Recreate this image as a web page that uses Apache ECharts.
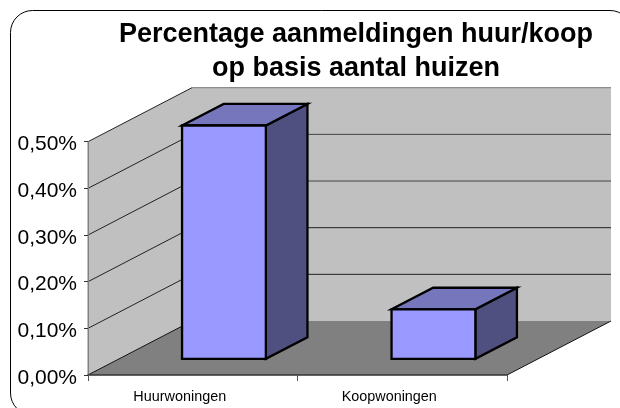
<!DOCTYPE html>
<html>
<head>
<meta charset="utf-8">
<title>Percentage aanmeldingen huur/koop</title>
<script src="https://cdn.jsdelivr.net/npm/echarts@6/dist/echarts.min.js"></script>
<style>
    html, body { margin: 0; padding: 0; background: #fff; }
    #chart { width: 620px; height: 408px; }
</style>
</head>
<body>
<div id="chart"></div>
<script>
var categories = ['Huurwoningen', 'Koopwoningen'];
var percentages = [0.5, 0.106];
var yTicks = [0, 0.1, 0.2, 0.3, 0.4, 0.5];

// depth of the fake 3d box, in pixels
var depthX = 104, depthY = -54;

function poly(points, fill, stroke, width) {
    return {
        type: 'polygon',
        shape: {points: points},
        style: {fill: fill, stroke: stroke || 'none', lineWidth: width || 0, lineJoin: 'miter'}
    };
}

function line(points, color, width) {
    return {
        type: 'polyline',
        shape: {points: points},
        style: {fill: 'none', stroke: color, lineWidth: width || 1}
    };
}

function renderWall(params, api) {
    var tick = api.value(1);
    var band = api.size([1, 0])[0];
    var left = api.coord([0, tick])[0] - band / 2;
    var right = api.coord([categories.length - 1, tick])[0] + band / 2;
    var y = api.coord([0, tick])[1];
    var children = [];

    if (params.dataIndex === 0) {
        var yTop = api.coord([0, yTicks[yTicks.length - 1]])[1];
        // side wall, back wall, floor
        children.push(poly([[left, y], [left + depthX, y + depthY], [left + depthX, yTop + depthY], [left, yTop]], '#c0c0c0'));
        children.push(poly([[left + depthX, y + depthY], [right + depthX, y + depthY], [right + depthX, yTop + depthY], [left + depthX, yTop + depthY]], '#c0c0c0'));
        children.push(poly([[left, y], [right, y], [right + depthX, y + depthY], [left + depthX, y + depthY]], '#808080'));
        children.push(line([[left, y], [left + depthX, y + depthY]], '#111'));
        children.push(line([[right, y], [right + depthX, y + depthY]], '#111'));
        children.push(line([[left, y], [left, yTop]], '#808080'));
    } else {
        children.push(line([[left + depthX, y + depthY], [right + depthX, y + depthY]], tick > 0.45 ? '#777' : (tick > 0.25 ? '#444' : '#222')));
        children.push(line([[left, y], [left + depthX, y + depthY]], '#222'));
    }
    return {type: 'group', children: children};
}

function renderBar(params, api) {
    var top = api.coord([api.value(0), api.value(1)]);
    var bottom = api.coord([api.value(0), 0]);
    var half = api.size([1, 0])[0] * 0.4 / 2;
    // the bar sits in the middle 40% of the floor depth
    var x0 = top[0] - half + depthX * 0.3, x1 = top[0] + half + depthX * 0.3;
    var yT = top[1] + depthY * 0.3, yB = bottom[1] + depthY * 0.3;
    var dx = depthX * 0.4, dy = depthY * 0.4;
    var edge = '#000';
    return {
        type: 'group',
        children: [
            poly([[x1, yT], [x1 + dx, yT + dy], [x1 + dx, yB + dy], [x1, yB]], '#4f4f80', edge, 2.3),
            poly([[x0, yT], [x0 + dx, yT + dy], [x1 + dx, yT + dy], [x1, yT]], '#7676bc', edge, 2.3),
            poly([[x0, yT], [x1, yT], [x1, yB], [x0, yB]], '#9999ff', edge, 2.3)
        ]
    };
}

var chart = echarts.init(document.getElementById('chart'), null, {renderer: 'canvas'});
chart.setOption({
    animation: false,
    backgroundColor: '#fff',
    title: {
        text: 'Percentage aanmeldingen huur/koop\nop basis aantal huizen',
        left: 351,
        top: 13,
        textAlign: 'center',
        textStyle: {
            fontFamily: 'Liberation Sans',
            fontSize: 27,
            fontWeight: 'bold',
            color: '#000',
            lineHeight: 34
        }
    },
    graphic: [{
        type: 'rect',
        z: 100,
        shape: {x: 10.5, y: 10.5, width: 621.5, height: 404.5, r: 22},
        style: {fill: 'none', stroke: '#000', lineWidth: 1}
    }],
    grid: {left: 88, right: 113, top: 141.7, height: 233.3},
    xAxis: {
        type: 'category',
        data: categories,
        z: 3,
        axisLine: {lineStyle: {color: '#333', width: 1.5}},
        axisTick: {show: true, length: 6, lineStyle: {color: '#555'}},
        axisLabel: {
            fontFamily: 'Liberation Sans',
            fontSize: 14.4,
            color: '#000',
            margin: 15,
            padding: [0, 26, 0, 0]
        }
    },
    yAxis: {
        type: 'value',
        min: 0,
        max: 0.5,
        interval: 0.1,
        z: 3,
        splitLine: {show: false},
        axisLine: {show: true, lineStyle: {color: '#808080'}},
        axisTick: {show: true, length: 4, lineStyle: {color: '#333'}},
        axisLabel: {
            fontFamily: 'Liberation Sans',
            fontSize: 21,
            color: '#000',
            margin: 11,
            verticalAlign: 'top',
            lineHeight: 6,
            formatter: function (value) {
                return value.toFixed(2).replace('.', ',') + '%';
            }
        }
    },
    series: [
        {
            name: 'wanden',
            type: 'custom',
            z: 1,
            clip: false,
            silent: true,
            renderItem: renderWall,
            encode: {x: 0, y: 1},
            data: yTicks.map(function (tick) {
                return [0, tick];
            })
        },
        {
            name: 'aanmeldingen',
            type: 'custom',
            z: 4,
            clip: false,
            renderItem: renderBar,
            encode: {x: 0, y: 1},
            data: percentages.map(function (value, i) {
                return [i, value];
            })
        }
    ]
});
</script>
</body>
</html>
